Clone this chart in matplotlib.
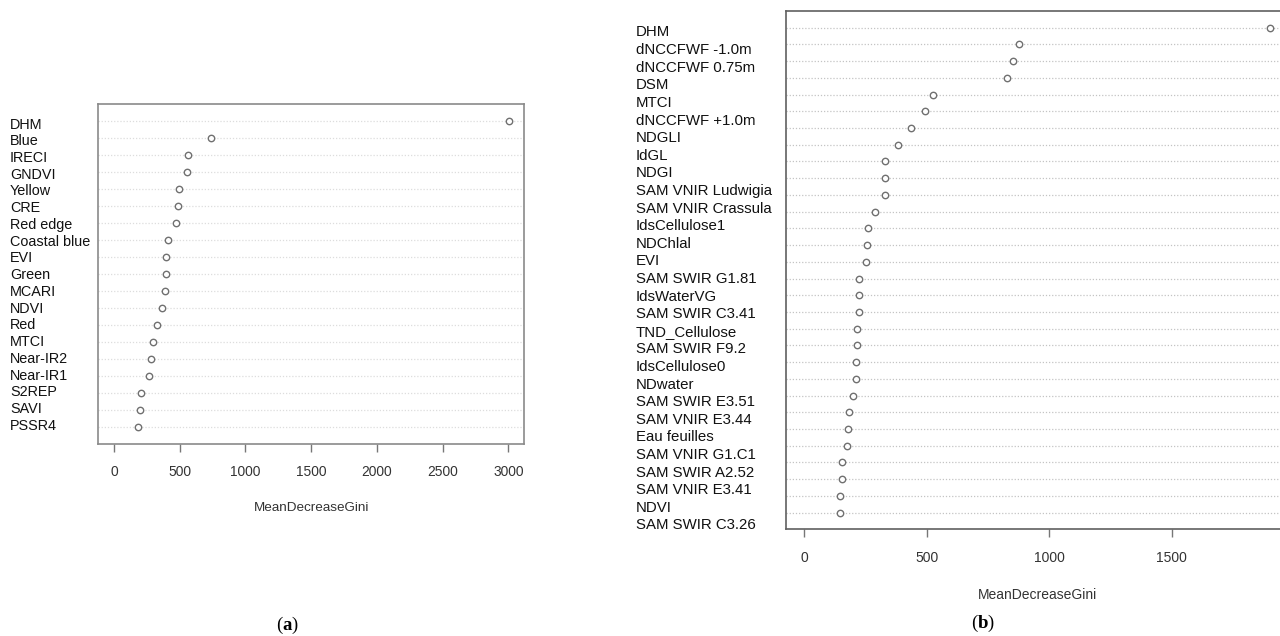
import numpy as np
import matplotlib.pyplot as plt

# panel (a)
labels_a = ["DHM", "Blue", "IRECI", "GNDVI", "Yellow", "CRE", "Red edge",
            "Coastal blue", "EVI", "Green", "MCARI", "NDVI", "Red", "MTCI",
            "Near-IR2", "Near-IR1", "S2REP", "SAVI", "PSSR4"]
gini_a = [3001, 736, 562, 554, 491, 486, 472, 410, 394, 394, 388, 364, 326,
          298, 282, 269, 204, 198, 182]
ticks_a = [0, 500, 1000, 1500, 2000, 2500, 3000]

# panel (b): 30 points but only 29 labels in the source picture
labels_b = ["DHM", "dNCCFWF -1.0m", "dNCCFWF 0.75m", "DSM", "MTCI",
            "dNCCFWF +1.0m", "NDGLI", "IdGL", "NDGI", "SAM VNIR Ludwigia",
            "SAM VNIR Crassula", "IdsCellulose1", "NDChlal", "EVI",
            "SAM SWIR G1.81", "IdsWaterVG", "SAM SWIR C3.41", "TND_Cellulose",
            "SAM SWIR F9.2", "IdsCellulose0", "NDwater", "SAM SWIR E3.51",
            "SAM VNIR E3.44", "Eau feuilles", "SAM VNIR G1.C1",
            "SAM SWIR A2.52", "SAM VNIR E3.41", "NDVI", "SAM SWIR C3.26"]
gini_b = [1902, 878, 853, 827, 527, 491, 437, 382, 331, 331, 329, 287, 259,
          255, 251, 223, 223, 223, 216, 216, 213, 209, 198, 182, 179, 173,
          152, 152, 145, 144]
ticks_b = [0, 500, 1000, 1500]

plt.rcParams['font.family'] = ['Liberation Sans', 'DejaVu Sans']
plt.rcParams['mathtext.fontset'] = 'custom'
plt.rcParams['mathtext.rm'] = 'Liberation Serif'
plt.rcParams['mathtext.bf'] = 'Liberation Serif:bold'

fig = plt.figure(figsize=(12.8, 6.36), dpi=100)


def dotplot(pos, values, labels, ticks, lab_lim, lab_pad, lab_size,
            tick_font, tick_size, tick_pad, xl_pad, xl_size,
            spine_col, grid_col):
    ax = fig.add_axes(pos)
    n = len(values)
    y = np.arange(n, 0, -1)
    for yy in y:
        ax.axhline(yy, color=grid_col, lw=0.9, ls=(0, (1, 1.5)), zorder=1)
    ax.plot(values, y, 'o', mfc='white', mec='#707070', ms=4.6, mew=1.0,
            zorder=3)
    m = max(values)
    ax.set_xlim(-0.04 * m, 1.04 * m)
    ax.set_ylim(0, n + 1)
    ax.set_yticks([])
    ax.set_xticks(ticks)
    ax.set_xticklabels([str(t) for t in ticks], family=tick_font,
                       fontsize=tick_size, color='#333333')
    ax.tick_params(axis='x', length=6, width=1.0, color='#777777',
                   pad=tick_pad)
    ax.set_xlabel('MeanDecreaseGini', family=tick_font, fontsize=xl_size,
                  color='#333333', labelpad=xl_pad)
    for s in ax.spines.values():
        s.set_color(spine_col)
        s.set_linewidth(1.2)

    # names sit on their own scale, as in the pasted source picture
    lab = ax.twinx()
    lab.yaxis.tick_left()
    lab.set_ylim(*lab_lim)
    lab.set_yticks(np.arange(1, len(labels) + 1))
    lab.set_yticklabels(labels, fontsize=lab_size, color='#111111')
    lab.tick_params(axis='y', length=0, pad=lab_pad)
    for t in lab.get_yticklabels():
        t.set_horizontalalignment('left')
    for s in lab.spines.values():
        s.set_visible(False)
    return ax


dotplot([98.2 / 1280, 1 - 444.3 / 636, 426.1 / 1280, 340 / 636],
        gini_a, labels_a, ticks_a, (20.19, -0.117), 88.2 * 0.72, 10.4,
        ['Liberation Sans', 'DejaVu Sans'], 9.9, 9.2, 16.5, 9.7,
        '#8a8a8a', '#dddddd')

dotplot([785.7 / 1280, 1 - 529.3 / 636, 503 / 1280, 518.3 / 636],
        gini_b, labels_b, ticks_b, (29.31, -0.136), 150.1 * 0.72, 10.8,
        ['Liberation Sans Narrow', 'Liberation Sans', 'DejaVu Sans'], 10.0,
        9.6, 16.5, 10.0, '#606060', '#c4c4c4')

fig.text(287.7 / 1280, 1 - 625 / 636, r'($\mathbf{a}$)', ha='center',
         va='center', fontsize=13.5, family='Liberation Serif')
fig.text(983 / 1280, 1 - 623 / 636, r'($\mathbf{b}$)', ha='center',
         va='center', fontsize=13.5, family='Liberation Serif')

plt.savefig('out.png', dpi=100)
